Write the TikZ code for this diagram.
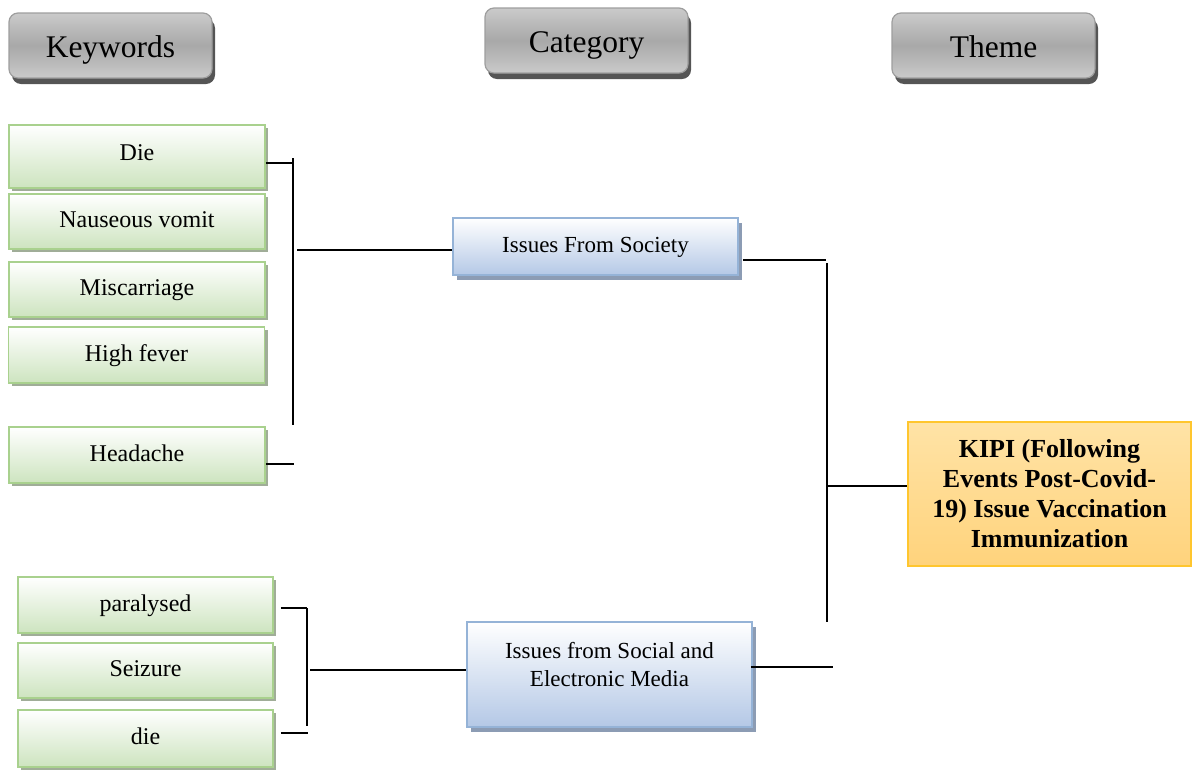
\documentclass[tikz,border=0pt]{standalone}
\usepackage{fontspec}
\setmainfont{Liberation Serif}
\usetikzlibrary{shadows,calc}
\definecolor{hgtop}{HTML}{CACACA}
\definecolor{hgmid}{HTML}{A8A8A8}
\definecolor{hgborder}{HTML}{9E9E9E}
\definecolor{hgshadow}{HTML}{555555}
\definecolor{kwborder}{HTML}{A9D18E}
\definecolor{kwbottom}{HTML}{CDE4BF}
\definecolor{kwshadow}{HTML}{A0AD98}
\definecolor{blborder}{HTML}{95B3D7}
\definecolor{blbottom}{HTML}{B4C8E6}
\definecolor{blshadow}{HTML}{8C9CB4}
\definecolor{ortop}{HTML}{FFE3A6}
\definecolor{orbottom}{HTML}{FFD37C}
\definecolor{orborder}{HTML}{FFC62E}
\tikzset{
  hdr/.style={draw=hgborder, line width=1.2pt, rounded corners=9pt,
    top color=hgtop, bottom color=hgtop, middle color=hgmid,
    minimum width=203pt, minimum height=65pt, inner sep=0pt,
    text height=26pt, text depth=3pt,
    font=\fontsize{31.5}{36}\selectfont,
    drop shadow={shadow xshift=3pt, shadow yshift=-6pt, fill=hgshadow, opacity=1}},
  kwbox/.style={draw=kwborder, line width=1.6pt,
    top color=white, bottom color=kwbottom,
    minimum width=256pt, inner sep=0pt,
    text height=17pt, text depth=5pt,
    font=\fontsize{24}{28}\selectfont,
    drop shadow={shadow xshift=3pt, shadow yshift=-3pt, fill=kwshadow, opacity=1}},
  catbox/.style={draw=blborder, line width=1.6pt,
    top color=white, bottom color=blbottom,
    minimum width=285pt, inner sep=0pt, align=center,
    font=\fontsize{23}{28}\selectfont,
    drop shadow={shadow xshift=4pt, shadow yshift=-5pt, fill=blshadow, opacity=1}},
  themebox/.style={draw=orborder, line width=1.4pt,
    top color=ortop, bottom color=orbottom,
    minimum width=283pt, minimum height=144pt, inner sep=0pt, align=center,
    font=\fontsize{26}{30}\selectfont\bfseries},
  conn/.style={draw=black, line width=1.5pt}
}
\begin{document}
\begin{tikzpicture}[x=1pt,y=-1pt]
\useasboundingbox (0,0) rectangle (1192,769);
% headers
\node[hdr] (hkw) at (110.5,45.5) {Keywords};
\node[hdr] (hcat) at (586.5,40.5) {Category};
\node[hdr] (hth) at (993.5,45.5) {Theme};
% keywords group 1
\node[kwbox, minimum height=63pt, text height=15pt, text depth=8pt] (die) at (137,156.5) {Die};
\node[kwbox, minimum height=55pt] (naus) at (137,221.5) {Nauseous vomit};
\node[kwbox, minimum height=55pt] (misc) at (137,289.5) {Miscarriage};
\node[kwbox, minimum height=56pt] (fever) at (136.5,355) {High fever};
\node[kwbox, minimum height=56pt] (head) at (137,455) {Headache};
% keywords group 2
\node[kwbox, minimum height=56pt, minimum width=255pt] (para) at (145.5,605) {paralysed};
\node[kwbox, minimum height=55pt, minimum width=255pt] (seiz) at (145.5,670.5) {Seizure};
\node[kwbox, minimum height=57pt, minimum width=255pt] (die2) at (145.5,738.5) {die};
% categories
\node[catbox, minimum height=57pt, text height=17pt, text depth=5pt] (soc) at (595.5,246.5) {Issues From Society};
\node[catbox, minimum height=105pt, text depth=20pt] (media) at (609.5,674.5) {Issues from Social and\\Electronic Media};
% theme
\node[themebox] (kipi) at (1049.5,494) {KIPI (Following\\Events Post-Covid-\\19) Issue Vaccination\\Immunization};
% connector coordinates
\coordinate (tA) at (293,163);
\coordinate (tTop) at (293,158);
\coordinate (tBot) at (293,425);
\coordinate (tM) at (297,250);
\coordinate (tH) at (294,464);
\coordinate (rA) at (826,260);
\coordinate (rTop) at (827,263);
\coordinate (rBot) at (827,622);
\coordinate (rK) at (827,486);
\coordinate (rB) at (833,667);
\coordinate (bA) at (307,608);
\coordinate (bBot) at (307,726);
\coordinate (bM) at (310,670);
\coordinate (bD) at (308,733);
% top bracket
\draw[conn] (die.east |- tA) -- (tA);
\draw[conn] (tTop) -- (tBot);
\draw[conn] (tM) -- (tM -| soc.west);
\draw[conn] (head.east |- tH) -- (tH);
% right bracket
\draw[conn] ($(soc.east |- rA)+(4,0)$) -- (rA);
\draw[conn] (rTop) -- (rBot);
\draw[conn] (rK) -- (rK -| kipi.west);
\draw[conn] ($(media.east |- rB)+(-2,0)$) -- (rB);
% bottom bracket
\draw[conn] ($(para.east |- bA)+(7,0)$) -- (bA);
\draw[conn] (bA) -- (bBot);
\draw[conn] (bM) -- (bM -| media.west);
\draw[conn] ($(die2.east |- bD)+(7,0)$) -- (bD);
\end{tikzpicture}
\end{document}
